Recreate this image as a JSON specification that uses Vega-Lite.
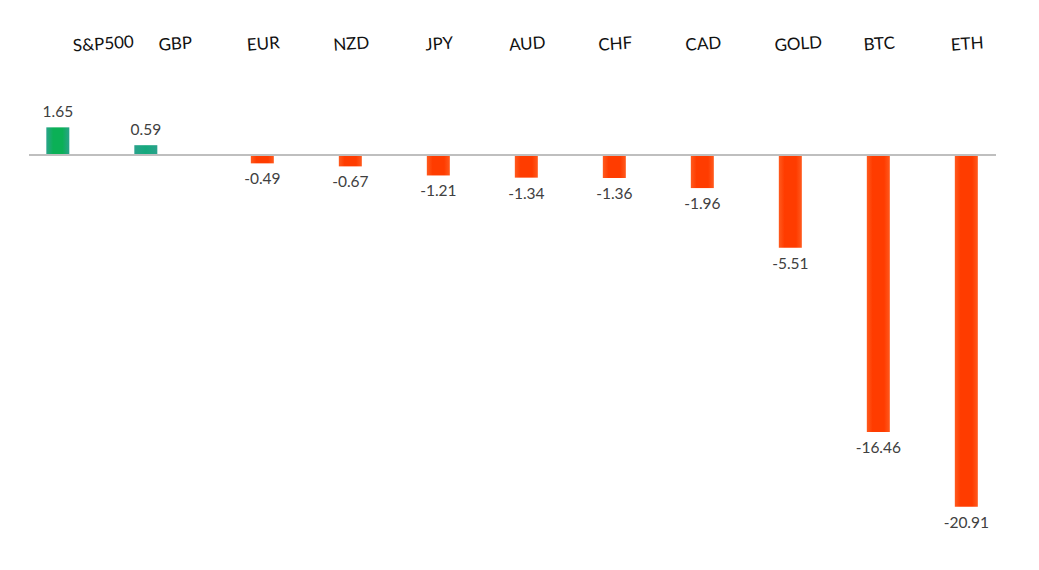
{
  "$schema": "https://vega.github.io/schema/vega-lite/v6.json",
  "autosize": "none",
  "width": 967,
  "height": 471,
  "padding": {"left": 29, "top": 71, "right": 43, "bottom": 28},
  "background": "white",
  "config": {"view": {"stroke": null}, "font": "Lato"},
  "data": {
    "values": [
      {"asset": "S&P500", "change": 1.65},
      {"asset": "GBP", "change": 0.59},
      {"asset": "EUR", "change": -0.49},
      {"asset": "NZD", "change": -0.67},
      {"asset": "JPY", "change": -1.21},
      {"asset": "AUD", "change": -1.34},
      {"asset": "CHF", "change": -1.36},
      {"asset": "CAD", "change": -1.96},
      {"asset": "GOLD", "change": -5.51},
      {"asset": "BTC", "change": -16.46},
      {"asset": "ETH", "change": -20.91}
    ]
  },
  "encoding": {
    "x": {
      "field": "asset",
      "type": "nominal",
      "sort": null,
      "scale": {"paddingInner": 0.7386, "paddingOuter": 0.3636, "align": 0.716},
      "axis": {
        "orient": "top",
        "title": null,
        "domain": false,
        "ticks": false,
        "grid": false,
        "labelAngle": -4,
        "labelAlign": "center",
        "labelBaseline": "middle",
        "labelPadding": 27,
        "labelFontSize": 17,
        "labelColor": "#111111",
        "labelFont": "Lato",
        "labelOffset": {
          "condition": [
            {"test": "datum.value === 'S&P500'", "value": 17},
            {"test": "datum.value === 'GOLD'", "value": 8}
          ],
          "value": 1
        }
      }
    },
    "y": {
      "field": "change",
      "type": "quantitative",
      "scale": {"domain": [-23, 5], "nice": false, "zero": false},
      "axis": null
    }
  },
  "layer": [
    {
      "transform": [{"filter": "datum.asset === 'S&P500'"}],
      "mark": {
        "type": "bar",
        "xOffset": -28.5,
        "color": {
          "gradient": "linear", "x1": 0, "x2": 1, "y1": 0, "y2": 0,
          "stops": [
            {"offset": 0, "color": "#2aa38a"},
            {"offset": 0.3, "color": "#0bb056"},
            {"offset": 0.7, "color": "#0bb056"},
            {"offset": 1, "color": "#2aa38a"}
          ]
        }
      },
      "encoding": {"y2": {"datum": 0}}
    },
    {
      "transform": [{"filter": "datum.asset === 'GBP'"}],
      "mark": {
        "type": "bar",
        "xOffset": -28.5,
        "color": {
          "gradient": "linear", "x1": 0, "x2": 1, "y1": 0, "y2": 0,
          "stops": [
            {"offset": 0, "color": "#2ba28c"},
            {"offset": 0.5, "color": "#14a97c"},
            {"offset": 1, "color": "#2ba28c"}
          ]
        }
      },
      "encoding": {"y2": {"datum": 0}}
    },
    {
      "transform": [{"filter": "datum.change < 0"}],
      "mark": {
        "type": "bar",
        "color": {
          "gradient": "linear", "x1": 0, "x2": 1, "y1": 0, "y2": 0,
          "stops": [
            {"offset": 0, "color": "#ff5a1e"},
            {"offset": 0.25, "color": "#ff3c00"},
            {"offset": 0.75, "color": "#ff3c00"},
            {"offset": 1, "color": "#ff5a1e"}
          ]
        }
      },
      "encoding": {"y2": {"datum": 0}}
    },
    {
      "mark": {"type": "rule", "color": "#bfbfbf", "strokeWidth": 2},
      "encoding": {"x": null, "y": {"datum": 0}}
    },
    {
      "transform": [{"filter": "datum.change > 0"}],
      "mark": {"type": "text", "dx": -28.5, "dy": -10, "baseline": "alphabetic", "fontSize": 15.5, "color": "#404040", "font": "Lato"},
      "encoding": {"text": {"field": "change", "type": "nominal"}}
    },
    {
      "transform": [{"filter": "datum.change < 0"}],
      "mark": {"type": "text", "dy": 9, "baseline": "top", "fontSize": 15.5, "color": "#404040", "font": "Lato"},
      "encoding": {"text": {"field": "change", "type": "nominal"}}
    }
  ]
}
